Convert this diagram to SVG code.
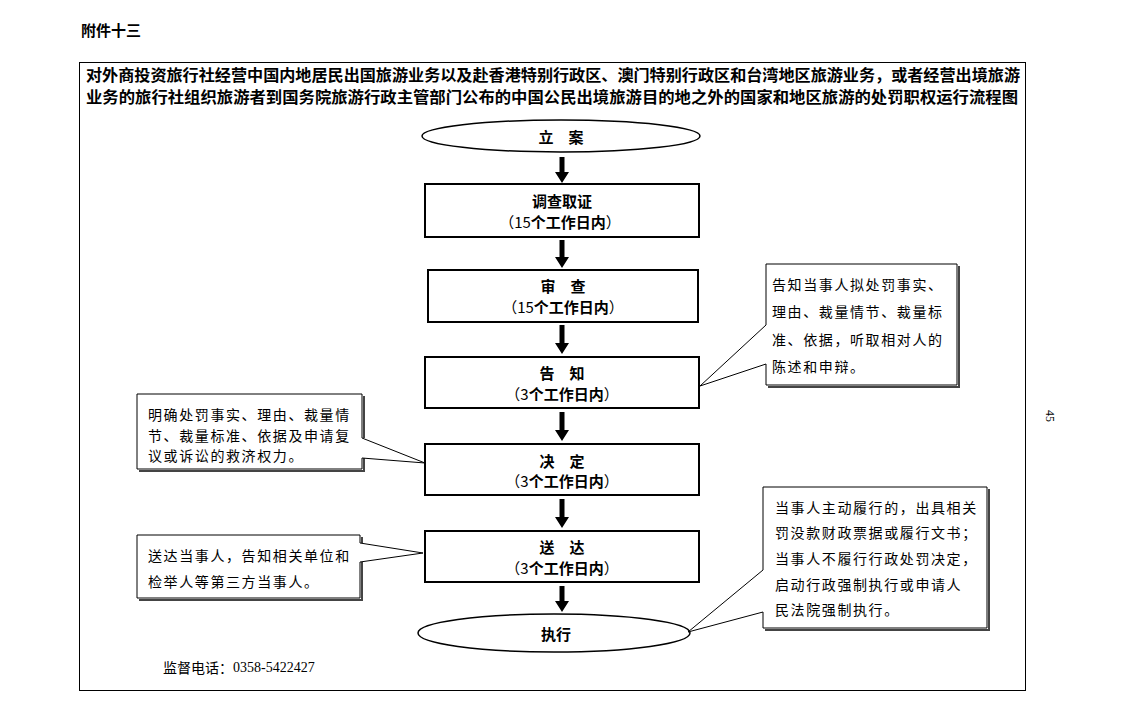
<svg xmlns="http://www.w3.org/2000/svg" width="1123" height="713" viewBox="0 0 1123 713">
<defs>
<style>
.bg{fill:#fff}
.frame{fill:none;stroke:#000;stroke-width:1}
.box{fill:#fff;stroke:#000;stroke-width:2}
.ell{fill:#fff;stroke:#000;stroke-width:1.5}
.cj{font-family:"Noto Sans CJK SC","DejaVu Sans",sans-serif}
.b{font-weight:bold}
.n{font-weight:normal}
.t{font-size:15px;text-anchor:middle;dominant-baseline:central}
.call{fill:#fff;stroke:#000;stroke-width:1}
.shadow{fill:none;stroke:#444;stroke-width:2}
.ct{font-size:14px;letter-spacing:1.6px;dominant-baseline:central}
.arr{fill:#000}
</style>
</defs>
<rect class="bg" x="0" y="0" width="1123" height="713"/>
<text class="cj b" x="81" y="29" font-size="15" dominant-baseline="central">附件十三</text>
<rect class="frame" x="79.5" y="62.5" width="946" height="628"/>
<text class="cj b" x="86" y="73.5" font-size="15.5" dominant-baseline="central" textLength="934" lengthAdjust="spacingAndGlyphs">对外商投资旅行社经营中国内地居民出国旅游业务以及赴香港特别行政区、澳门特别行政区和台湾地区旅游业务，或者经营出境旅游</text>
<text class="cj b" x="86" y="95.5" font-size="15.5" dominant-baseline="central" textLength="932" lengthAdjust="spacingAndGlyphs">业务的旅行社组织旅游者到国务院旅游行政主管部门公布的中国公民出境旅游目的地之外的国家和地区旅游的处罚职权运行流程图</text>

<g id="connectors">
<polygon class="arr" points="559.5,157 564.5,157 564.5,172 569,172 562,183 555,172 559.5,172"/>
<polygon class="arr" points="559.5,240 564.5,240 564.5,257 569,257 562,268 555,257 559.5,257"/>
<polygon class="arr" points="559.5,325 564.5,325 564.5,343 569,343 562,354 555,343 559.5,343"/>
<polygon class="arr" points="559.5,412 564.5,412 564.5,430 569,430 562,441 555,430 559.5,430"/>
<polygon class="arr" points="559.5,499 564.5,499 564.5,517 569,517 562,528 555,517 559.5,517"/>
<polygon class="arr" points="559.5,586 564.5,586 564.5,601 569,601 562,612 555,601 559.5,601"/>
</g>

<g id="n-lian">
<ellipse class="ell" cx="561" cy="136" rx="139" ry="16"/>
<text class="cj b t" x="561" y="136">立　案</text>
</g>
<g id="n-diaocha">
<rect class="box" x="425" y="184" width="274" height="53"/>
<text class="cj b t" x="562" y="200">调查取证</text>
<text class="cj b t" x="560" y="221"><tspan class="n">（15</tspan>个工作日内<tspan class="n">）</tspan></text>
</g>
<g id="n-shencha">
<rect class="box" x="428" y="270" width="270" height="52"/>
<text class="cj b t" x="563" y="285">审　查</text>
<text class="cj b t" x="563" y="306"><tspan class="n">（15</tspan>个工作日内<tspan class="n">）</tspan></text>
</g>
<g id="n-gaozhi">
<rect class="box" x="425" y="357" width="274" height="51"/>
<text class="cj b t" x="562" y="372">告　知</text>
<text class="cj b t" x="562" y="393"><tspan class="n">（3</tspan>个工作日内<tspan class="n">）</tspan></text>
</g>
<g id="n-jueding">
<rect class="box" x="425" y="444" width="274" height="51"/>
<text class="cj b t" x="562" y="460">决　定</text>
<text class="cj b t" x="562" y="480"><tspan class="n">（3</tspan>个工作日内<tspan class="n">）</tspan></text>
</g>
<g id="n-songda">
<rect class="box" x="425" y="531" width="274" height="51"/>
<text class="cj b t" x="562" y="546">送　达</text>
<text class="cj b t" x="562" y="567"><tspan class="n">（3</tspan>个工作日内<tspan class="n">）</tspan></text>
</g>
<g id="n-zhixing">
<ellipse class="ell" cx="554" cy="633" rx="136" ry="19"/>
<text class="cj b t" x="556" y="633">执行</text>
</g>

<g id="c-gaozhi">
<path class="shadow" d="M959,266 V387 H768"/>
<path class="call" d="M766,264 H957 V385 H766 V364 L700,386 L766,325 Z"/>
<text class="cj ct" x="772" y="284" letter-spacing="2">告知当事人拟处罚事实、</text>
<text class="cj ct" x="772" y="311" letter-spacing="2">理由、裁量情节、裁量标</text>
<text class="cj ct" x="772" y="339" letter-spacing="2">准、依据，听取相对人的</text>
<text class="cj ct" x="772" y="366" letter-spacing="2">陈述和申辩。</text>
</g>
<g id="c-jueding">
<path class="shadow" d="M364,396 V438 M364,458 V471 H139"/>
<path class="call" d="M137,394 H362 V438 L425,463 L362,458 V469 H137 Z"/>
<text class="cj ct" x="148" y="414">明确处罚事实、理由、裁量情</text>
<text class="cj ct" x="148" y="435">节、裁量标准、依据及申请复</text>
<text class="cj ct" x="148" y="455">议或诉讼的救济权力。</text>
</g>
<g id="c-songda">
<path class="shadow" d="M362,537 V543 M362,562 V600 H139"/>
<path class="call" d="M137,535 H360 V543 L423,553 L360,562 V598 H137 Z"/>
<text class="cj ct" x="148" y="555">送达当事人，告知相关单位和</text>
<text class="cj ct" x="148" y="581">检举人等第三方当事人。</text>
</g>
<g id="c-zhixing">
<path class="shadow" d="M989,489 V630 H765"/>
<path class="call" d="M763,487 H987 V628 H763 V612 L688,632 L763,570 Z"/>
<text class="cj ct" x="775" y="507">当事人主动履行的，出具相关</text>
<text class="cj ct" x="775" y="532">罚没款财政票据或履行文书；</text>
<text class="cj ct" x="775" y="558">当事人不履行行政处罚决定，</text>
<text class="cj ct" x="775" y="584">启动行政强制执行或申请人</text>
<text class="cj ct" x="775" y="609">民法院强制执行。</text>
</g>

<text x="163" y="667" font-size="14" dominant-baseline="central"><tspan font-family="Noto Sans CJK SC, sans-serif">监督电话：</tspan><tspan font-family="Liberation Serif, serif">0358-5422427</tspan></text>
<text x="0" y="0" font-family="Liberation Serif, serif" font-size="12" text-anchor="middle" dominant-baseline="central" transform="translate(1050,416) rotate(90)">45</text>
</svg>
